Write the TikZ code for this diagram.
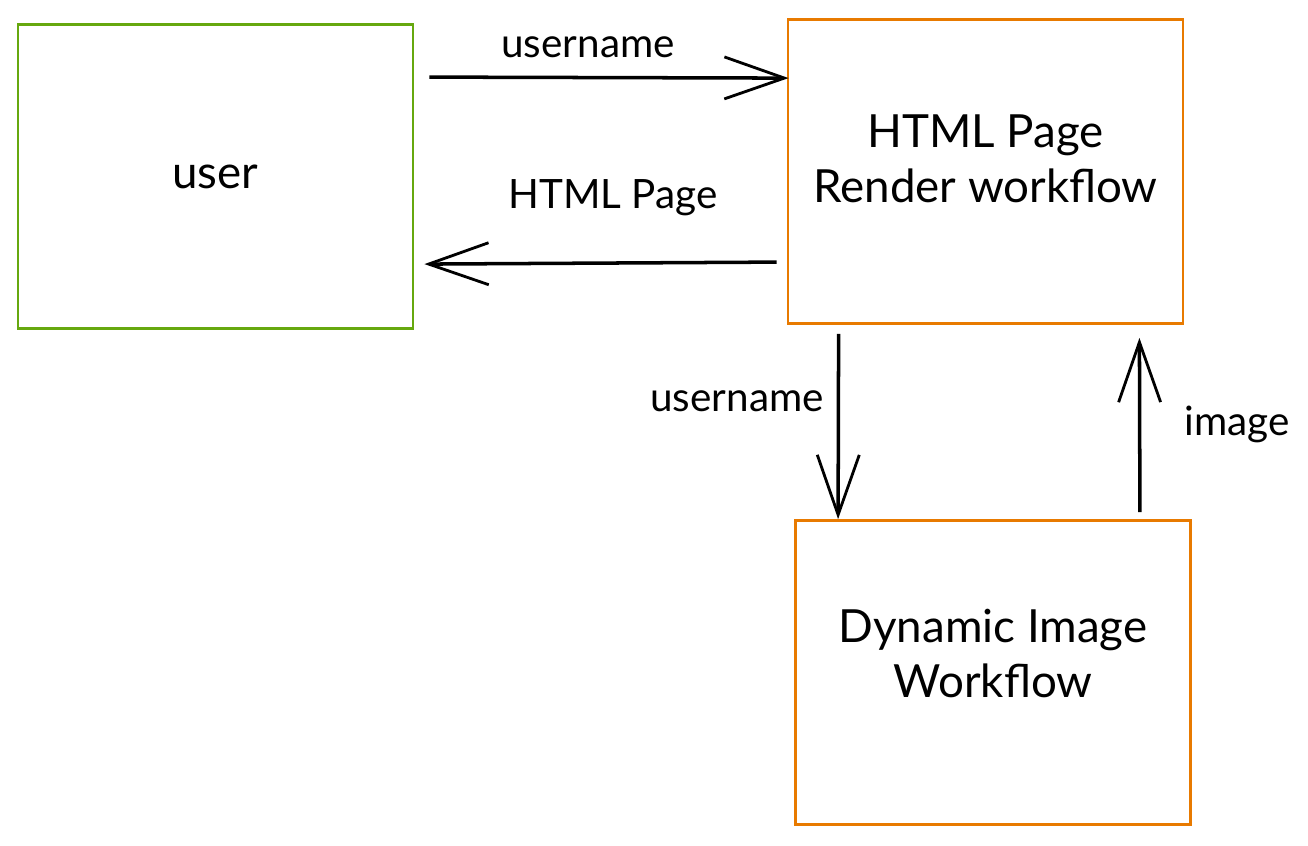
\documentclass[tikz,border=0pt]{standalone}
\usepackage{fontspec}
\setmainfont{Lato}
\usetikzlibrary{arrows.meta,positioning,calc}
\definecolor{xgreen}{HTML}{66A80F}
\definecolor{xorange}{HTML}{E87A00}
\tikzset{
  every picture/.style={line width=0.8pt},
  sBox/.style={draw, rectangle, minimum width=3.95cm, minimum height=3.04cm, align=center,
               font=\fontsize{13}{15.5}\selectfont, inner sep=0pt},
  sUser/.style={sBox, draw=xgreen},
  sFlow/.style={sBox, draw=xorange},
  sArr/.style={-{Straight Barb[length=6mm, width=4.2mm, line width=0.8pt]}, line width=1pt},
  sLab/.style={font=\fontsize{11.5}{14}\selectfont},
}

\begin{document}
\begin{tikzpicture}
\useasboundingbox (0,0) rectangle (13.08,8.45);
\node[sUser] (user) at (2.155,6.685) {user};
\node[sFlow, text depth=0.26cm] (render) at (9.855,6.735) {HTML Page\\Render workflow};
\node[sFlow, text depth=0.38cm] (dyn) at (9.93,1.725) {Dynamic Image\\Workflow};
% user -> render
\draw[sArr] ($(user.north east)+(0.15,-0.54)$) -- ($(render.north west)+(0.02,-0.6)$);
\node[sLab] (lUser) at (5.88,7.98) {username};
% render -> user
\draw[sArr] ($(render.north west)+(-0.1,-2.44)$) -- ($(user.north east)+(0.1,-2.41)$);
\node[sLab] (lPage) at (6.13,6.47) {HTML Page};
% render -> dyn
\draw[sArr] ($(render.south west)+(0.52,-0.09)$) -- ($(dyn.north west)+(0.44,0)$);
\node[sLab] (lName) at (7.37,4.44) {username};
% dyn -> render
\draw[sArr] ($(dyn.north east)+(-0.52,0.07)$) -- ($(render.south east)+(-0.45,-0.13)$);
\node[sLab] (lImg) at (12.37,4.21) {image};
\end{tikzpicture}
\end{document}
